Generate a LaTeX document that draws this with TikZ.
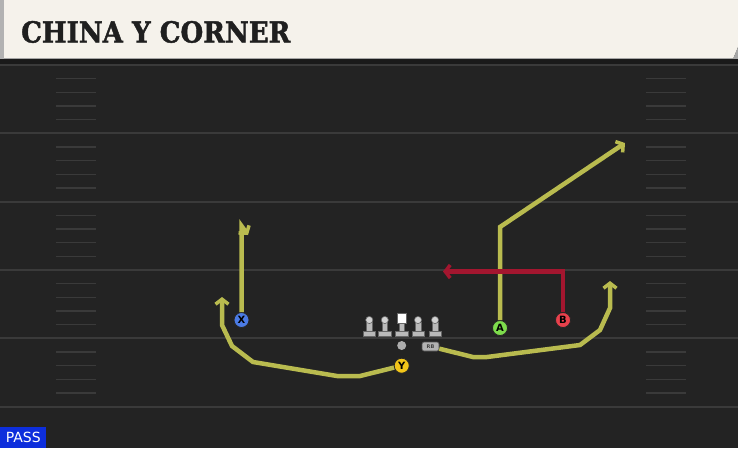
\documentclass[tikz,border=0pt]{standalone}
\usepackage{fontspec}
\setmainfont{DejaVu Sans}
\newfontfamily\titlefont{DejaVu Serif}[BoldFeatures={FakeBold=1.6}]
\usetikzlibrary{arrows.meta}

\definecolor{fieldbg}{HTML}{232323}
\definecolor{bandbg}{HTML}{1A1A1A}
\definecolor{headerbg}{HTML}{F5F2EB}
\definecolor{yardgray}{HTML}{3A3A3A}
\definecolor{routeyellow}{HTML}{B9BB4F}
\definecolor{routered}{HTML}{A3162F}
\definecolor{xblue}{HTML}{4B7BE5}
\definecolor{ayellowgreen}{HTML}{7DDC4C}
\definecolor{bred}{HTML}{E8414C}
\definecolor{yyellow}{HTML}{F2C519}
\definecolor{passblue}{HTML}{0D2EDC}

\begin{document}
\begin{tikzpicture}[x=1pt,y=-1pt,line join=miter]
\tikzset{yardline/.style = {draw=yardgray,line width=2pt},
         hashmark/.style = {draw=yardgray,line width=1.5pt},
         route/.style    = {line width=4.5pt,
                            -{Straight Barb[length=5pt,width=13pt,line width=3.5pt]}},
         player/.style   = {circle,draw=black!85,line width=.8pt,
                            minimum size=15pt,inner sep=0pt,
                            font=\bfseries\fontsize{10}{10}\selectfont},
         lineman/.style  = {draw=black!60,line width=.6pt,fill=gray!55}}
\useasboundingbox (0,0) rectangle (738,448);
\fill[fieldbg] (0,0) rectangle (738,448);

% header
\fill[headerbg] (0,0) -- (738,0) -- (738,47) -- (733,59) -- (0,59) -- cycle;
\fill[gray!70] (733,59) -- (738,47) -- (738,60) -- cycle;
\fill[gray!60] (0,0) rectangle (4,59);
\draw[gray!70,line width=1pt] (4,58.5) -- (733,58.5);
\fill[bandbg] (0,59) rectangle (738,65);
\node[anchor=base west,font=\titlefont\bfseries\fontsize{29}{29}\selectfont,
      text=black!88,xscale=.9,inner sep=0pt] (title) at (21,42.5) {CHINA Y CORNER};

% field
\foreach \i in {0,...,5}
  \draw[yardline] (0,{65+68.33*\i}) -- (738,{65+68.33*\i});
\foreach \i in {0,...,4}
  \foreach \j in {1,...,4}{
    \draw[hashmark] (56,{65+68.33*\i+13.67*\j}) -- (96,{65+68.33*\i+13.67*\j});
    \draw[hashmark] (646,{65+68.33*\i+13.67*\j}) -- (686,{65+68.33*\i+13.67*\j});
  }

% players
\node[player,fill=xblue] (X) at (241.5,320) {X};
\node[player,fill=yyellow] (Y) at (401.7,365.7) {Y};
\node[player,fill=ayellowgreen] (A) at (500,328) {A};
\node[player,fill=bred] (B) at (563,320) {B};
\node[rounded corners=2pt,fill=gray!60,draw=black!70,line width=.6pt,
      minimum width=17pt,minimum height=9pt,inner sep=0pt,
      font=\bfseries\fontsize{5}{5}\selectfont,text=black!75] (RB) at (430.5,346.5) {RB};
\node[circle,fill=gray!65,minimum size=9pt,inner sep=0pt] (ball) at (401.7,345.5) {};

% routes
\draw[route,routeyellow] (X) -- (241.5,226) -- (248,235);
\draw[route,routeyellow] (Y) -- (360,376) -- (337,376) -- (253,362)
                          -- (232,346) -- (222,325) -- (222,297);
\draw[route,routeyellow] (A) -- (500,227) -- (625,143);
\draw[route,routered] (B) -- (563,271.5) -- (443,271.5);
\draw[route,routeyellow] (RB) -- (473,357) -- (487,357) -- (580,345)
                          -- (600,330) -- (610,308) -- (610,281);

% offensive line
\foreach \lx in {369.3,384.8,418,435}{
  \filldraw[lineman] (\lx-6.2,331) rectangle (\lx+6.2,336);
  \filldraw[lineman] (\lx-2.8,322) rectangle (\lx+2.8,331);
  \filldraw[lineman,fill=gray!35] (\lx,320) circle (3.6);
}
\filldraw[lineman] (395,331) rectangle (408,336);
\filldraw[lineman] (399,322) rectangle (404,331);
\filldraw[lineman,fill=white] (397,313) rectangle (406,323);

% play type
\node[fill=passblue,text=white,anchor=south west,minimum width=46pt,
      minimum height=21pt,inner sep=0pt,font=\fontsize{14}{14}\selectfont] (mode) at (0,448) {PASS};
\end{tikzpicture}
\end{document}
